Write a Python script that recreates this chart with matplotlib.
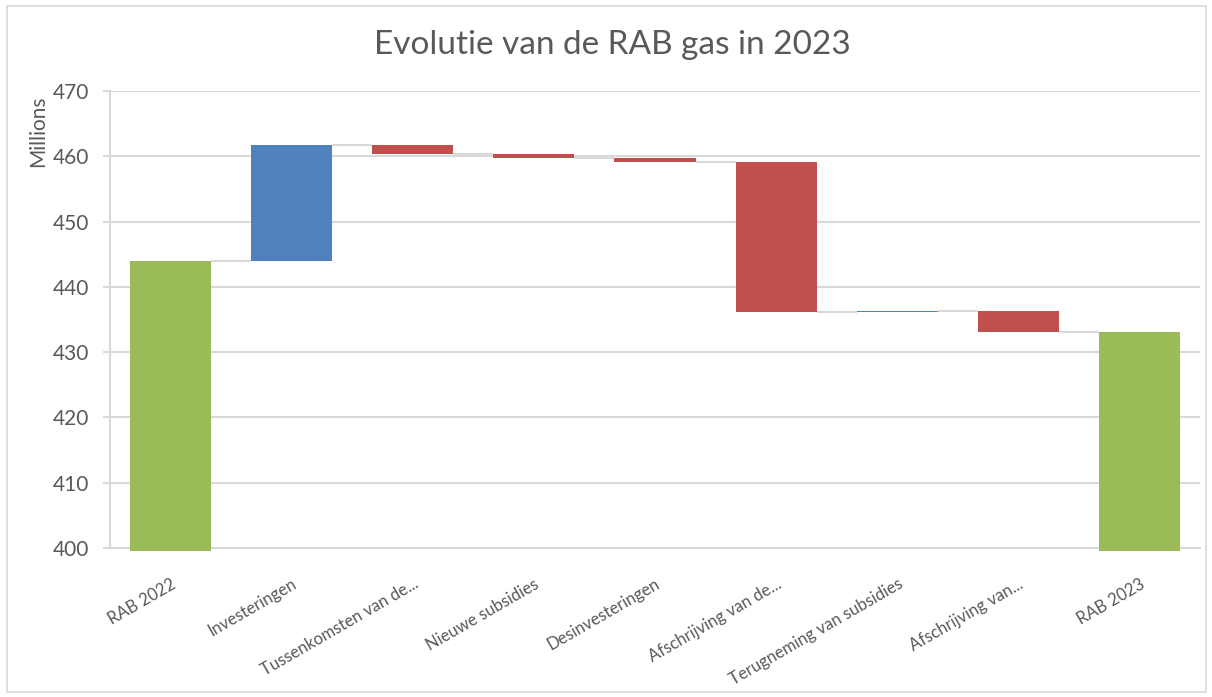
import matplotlib.pyplot as plt
from matplotlib.patches import Rectangle
import numpy as np

# data (millions EUR)
categories = ["RAB 2022", "Investeringen", "Tussenkomsten van de...",
              "Nieuwe subsidies", "Desinvesteringen", "Afschrijving van de...",
              "Terugneming van subsidies", "Afschrijving van...", "RAB 2023"]
rab_start = 444.0
changes = [17.7, -1.4, -0.6, -0.6, -22.9, 0.1, -3.2]
rab_end = 433.1
y_ticks = [400, 410, 420, 430, 440, 450, 460, 470]

GREEN = "#9BBB59"
BLUE = "#4F81BD"
RED = "#C0504D"
GRID = "#D9D9D9"
TEXT = "#595959"
FONT = ["Lato", "DejaVu Sans"]

plt.rcParams['font.family'] = FONT

fig = plt.figure(figsize=(12.12, 6.97), dpi=100)
ax = fig.add_axes([110 / 1212, 149 / 697, 1090 / 1212, 457 / 697])

ymin, ymax = y_ticks[0], y_ticks[-1]
width = 0.67
x = np.arange(len(categories))

# running totals
levels = [rab_start]
for c in changes:
    levels.append(levels[-1] + c)

# totals (slightly overshooting the axis, like the original)
for xi, val in [(x[0], rab_start), (x[-1], rab_end)]:
    ax.bar(xi, val - (ymin - 0.5), bottom=ymin - 0.5, width=width,
           color=GREEN, zorder=3, clip_on=False)

# changes
for i, c in enumerate(changes):
    base = levels[i]
    ax.bar(x[i + 1], c, bottom=base, width=width,
           color=BLUE if c > 0 else RED, zorder=3)

# connectors
tops = [rab_start] + levels[1:] + [rab_end]
for i in range(len(categories) - 1):
    ax.plot([x[i] + width / 2, x[i + 1] - width / 2], [tops[i], tops[i]],
            color=GRID, lw=1.5, zorder=2, solid_capstyle='butt')

ax.set_xlim(-0.5, len(categories) - 0.5)
ax.set_ylim(ymin, ymax)
ax.set_yticks(y_ticks)
ax.yaxis.grid(True, color=GRID, lw=1.5, zorder=0)
ax.set_axisbelow(True)

for s in ["top", "right"]:
    ax.spines[s].set_visible(False)
for s in ["left", "bottom"]:
    ax.spines[s].set_color(GRID)
    ax.spines[s].set_linewidth(1.5)

ax.tick_params(axis='y', colors=GRID, labelcolor=TEXT, labelsize=15,
               length=5, width=1.5, pad=10)
ax.tick_params(axis='x', length=0, pad=20)
ax.set_xticks(x)
ax.set_xticklabels(categories, rotation=30, ha='right', va='top',
                   rotation_mode='anchor', fontsize=12, color=TEXT)

fig.text(38 / 1212, 1 - 131 / 697, "Millions", rotation=90, ha='center',
         va='center', fontsize=15, color=TEXT)
fig.text(0.505, 1 - 45 / 697, "Evolutie van de RAB gas in 2023", ha='center',
         va='center', fontsize=24, color=TEXT)

# chart border
fig.patches.append(Rectangle((7 / 1212, 5 / 697), 1199 / 1212, 686 / 697,
                             transform=fig.transFigure, fill=False,
                             edgecolor=GRID, lw=1.2))

fig.savefig("out.png", dpi=100)
plt.close(fig)
